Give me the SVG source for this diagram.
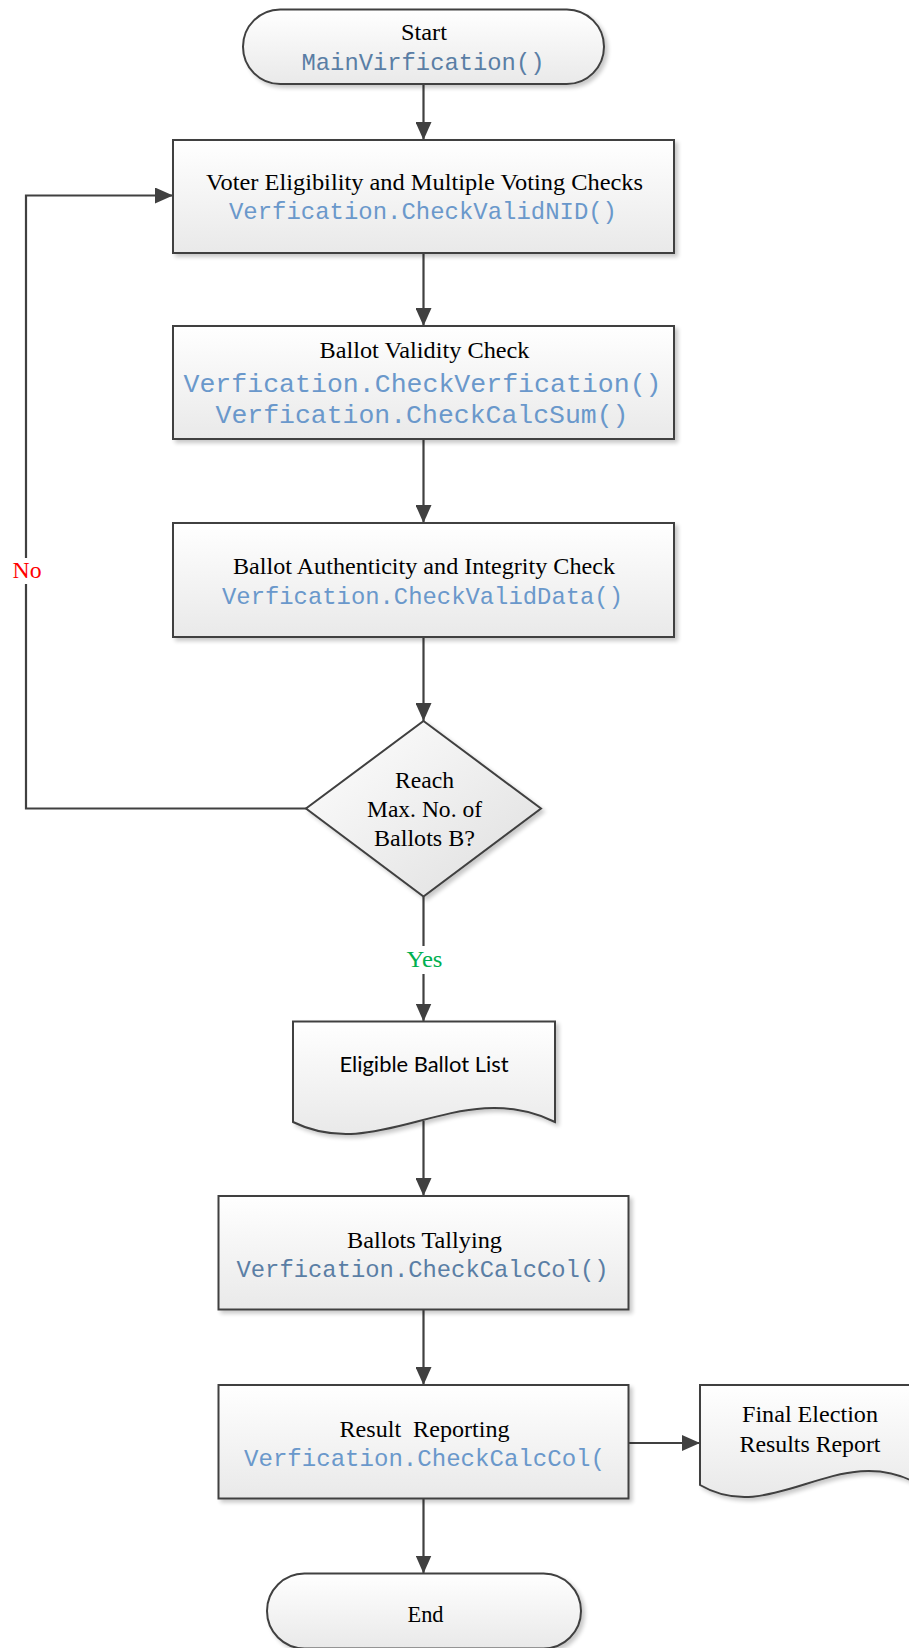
<svg xmlns="http://www.w3.org/2000/svg" width="909" height="1648" viewBox="0 0 909 1648">
  <defs>
    <linearGradient id="fillV" x1="0" y1="0" x2="0" y2="1">
      <stop offset="0" stop-color="#ffffff"/>
      <stop offset="1" stop-color="#e9e9e9"/>
    </linearGradient>
    <linearGradient id="fillD" x1="0" y1="0" x2="1" y2="1">
      <stop offset="0" stop-color="#ffffff"/>
      <stop offset="1" stop-color="#dedede"/>
    </linearGradient>
    <filter id="shadow" x="-5%" y="-5%" width="115%" height="125%">
      <feGaussianBlur in="SourceAlpha" stdDeviation="2"/>
      <feOffset dx="3" dy="3" result="off"/>
      <feComponentTransfer><feFuncA type="linear" slope="0.22"/></feComponentTransfer>
      <feMerge><feMergeNode/><feMergeNode in="SourceGraphic"/></feMerge>
    </filter>
    <marker id="arrow" markerUnits="userSpaceOnUse" markerWidth="18" markerHeight="16" refX="18" refY="8" orient="auto">
      <path d="M0,0 L18,8 L0,16 z" fill="#404040"/>
    </marker>
  </defs>
  <style>
    .shape { stroke: #404040; stroke-width: 2; fill: url(#fillV); filter: url(#shadow); }
    .diam { stroke: #404040; stroke-width: 2; fill: url(#fillD); filter: url(#shadow); }
    .edge { stroke: #404040; stroke-width: 2.2; fill: none; }
    .t { font-family: "Liberation Serif", "Times New Roman", serif; font-size: 23px; fill: #000; text-anchor: middle; }
    .m { font-family: "Liberation Mono", "Courier New", monospace; font-size: 24px; fill: #6a98cb; text-anchor: middle; }
    .m2 { fill: #5a7ea5; }
    .s { font-family: Lato, "Liberation Sans", sans-serif; font-size: 21px; fill: #000; text-anchor: middle; }
    .yes { fill: #00b050; }
    .no { fill: #ff0000; }
  </style>

  <!-- connectors -->
  <g id="connectors">
    <path class="edge" d="M423.5,84 V140" marker-end="url(#arrow)"/>
    <path class="edge" d="M423.5,253 V326" marker-end="url(#arrow)"/>
    <path class="edge" d="M423.5,439 V523" marker-end="url(#arrow)"/>
    <path class="edge" d="M423.5,637 V721" marker-end="url(#arrow)"/>
    <path class="edge" d="M423.5,896.5 V1021.5" marker-end="url(#arrow)"/>
    <path class="edge" d="M423.5,1121 V1196" marker-end="url(#arrow)"/>
    <path class="edge" d="M423.5,1309.5 V1385" marker-end="url(#arrow)"/>
    <path class="edge" d="M628.5,1443 H700" marker-end="url(#arrow)"/>
    <path class="edge" d="M423.5,1498.5 V1573.5" marker-end="url(#arrow)"/>
    <path class="edge" d="M306,808.5 H26 V195.5 H173" marker-end="url(#arrow)"/>
    <rect x="404" y="946" width="40" height="28" fill="#ffffff"/>
    <text class="t yes" x="424.5" y="967" textLength="36" lengthAdjust="spacingAndGlyphs">Yes</text>
    <rect x="10" y="558" width="34" height="26" fill="#ffffff"/>
    <text class="t no" x="27" y="578" textLength="29" lengthAdjust="spacingAndGlyphs">No</text>
  </g>

  <g id="start">
    <rect class="shape" x="243" y="9.5" width="361" height="74.5" rx="37.25"/>
    <text class="t" x="424" y="40" textLength="46" lengthAdjust="spacingAndGlyphs">Start</text>
    <text class="m m2" x="423" y="69.5" textLength="243" lengthAdjust="spacingAndGlyphs">MainVirfication()</text>
  </g>

  <g id="voter-check">
    <rect class="shape" x="173" y="140" width="501" height="113"/>
    <text class="t" x="424.5" y="189.5" textLength="437" lengthAdjust="spacingAndGlyphs">Voter Eligibility and Multiple Voting Checks</text>
    <text class="m" x="423" y="218.5" textLength="388" lengthAdjust="spacingAndGlyphs">Verfication.CheckValidNID()</text>
  </g>

  <g id="validity-check">
    <rect class="shape" x="173" y="326" width="501" height="113"/>
    <text class="t" x="424.5" y="357.5" textLength="210" lengthAdjust="spacingAndGlyphs">Ballot Validity Check</text>
    <text class="m" x="422.5" y="391.5" style="font-size:26.5px" textLength="478" lengthAdjust="spacingAndGlyphs">Verfication.CheckVerfication()</text>
    <text class="m" x="422" y="422.5" style="font-size:26.5px" textLength="413" lengthAdjust="spacingAndGlyphs">Verfication.CheckCalcSum()</text>
  </g>

  <g id="integrity-check">
    <rect class="shape" x="173" y="523" width="501" height="114"/>
    <text class="t" x="424" y="573.5" textLength="382" lengthAdjust="spacingAndGlyphs">Ballot Authenticity and Integrity Check</text>
    <text class="m" x="422.5" y="603.5" textLength="401" lengthAdjust="spacingAndGlyphs">Verfication.CheckValidData()</text>
  </g>

  <g id="decision">
    <polygon class="diam" points="423.5,721 541,808.5 423.5,896.5 306,808.5"/>
    <text class="t" x="424.5" y="787.5" textLength="59" lengthAdjust="spacingAndGlyphs">Reach</text>
    <text class="t" x="424.5" y="816.5" textLength="115" lengthAdjust="spacingAndGlyphs">Max. No. of</text>
    <text class="t" x="424.5" y="846" textLength="101" lengthAdjust="spacingAndGlyphs">Ballots B?</text>
  </g>

  <g id="ballot-list">
    <path class="shape" d="M293,1021.5 H555 V1122 C460,1075 380,1165 293,1122 Z"/>
    <text class="s" x="424" y="1072" textLength="169" lengthAdjust="spacingAndGlyphs">Eligible Ballot List</text>
  </g>

  <g id="tallying">
    <rect class="shape" x="218.5" y="1196" width="410" height="113.5"/>
    <text class="t" x="424.5" y="1247.5" textLength="155" lengthAdjust="spacingAndGlyphs">Ballots Tallying</text>
    <text class="m m2" x="422.5" y="1277" textLength="372" lengthAdjust="spacingAndGlyphs">Verfication.CheckCalcCol()</text>
  </g>

  <g id="reporting">
    <rect class="shape" x="218.5" y="1385" width="410" height="113.5"/>
    <text class="t" x="424.5" y="1436.5" textLength="170" lengthAdjust="spacingAndGlyphs" xml:space="preserve">Result  Reporting</text>
    <text class="m" x="424.5" y="1466" textLength="361" lengthAdjust="spacingAndGlyphs">Verfication.CheckCalcCol(</text>
  </g>

  <g id="final-report">
    <path class="shape" d="M700,1385 H920 V1485 C840,1438 773,1528 700,1485 Z"/>
    <text class="t" x="810" y="1422" textLength="136" lengthAdjust="spacingAndGlyphs">Final Election</text>
    <text class="t" x="810" y="1451.5" textLength="141" lengthAdjust="spacingAndGlyphs">Results Report</text>
  </g>

  <g id="end">
    <rect class="shape" x="267" y="1573.5" width="314" height="75" rx="37.5"/>
    <text class="t" x="425.5" y="1621.5" textLength="36" lengthAdjust="spacingAndGlyphs">End</text>
  </g>
</svg>
